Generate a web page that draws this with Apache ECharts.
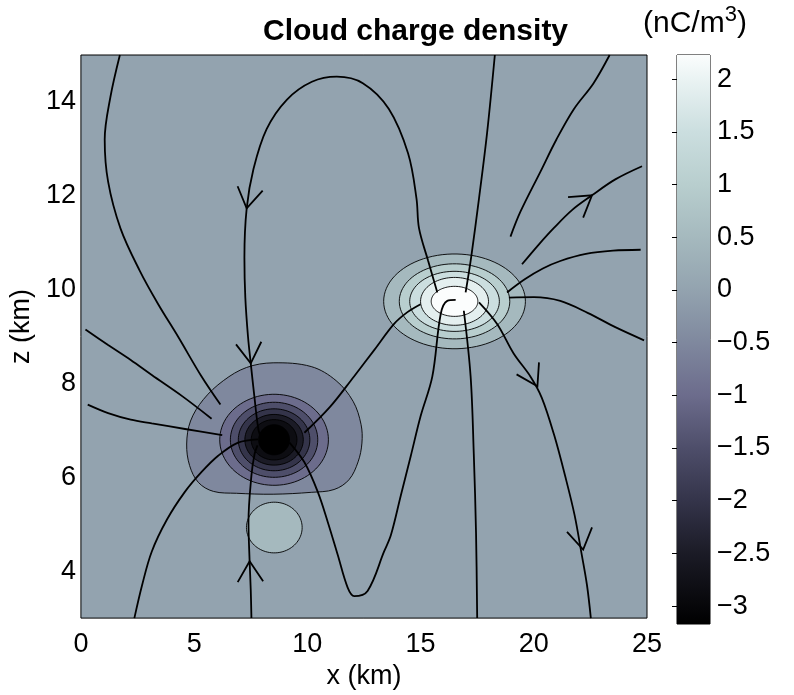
<!DOCTYPE html>
<html>
<head>
<meta charset="utf-8">
<script src="https://cdn.jsdelivr.net/npm/echarts@6/dist/echarts.min.js"></script>
<style>
  html, body { margin: 0; background: #fff; }
  #chart { width: 794px; height: 695px; }
</style>
</head>
<body>
<div id="chart"></div>
<script>
// colour scale of the charge density (nC/m^3)
const cbarMin = -3.17
const cbarMax = 2.23
const cbarTicks = [-3, -2.5, -2, -1.5, -1, -0.5, 0, 0.5, 1, 1.5, 2]
const zTicks = [4, 6, 8, 10, 12, 14]

// upper positive cell: nested contour ellipses (level, half widths in km)
const posCentre = [16.5, 9.75]
const posLevels = [0.5, 1.0, 1.5, 1.9, 2.23]
const posRx = [3.13, 2.44, 1.98, 1.5, 1.03]
const posRz = [1.01, 0.8, 0.64, 0.51, 0.32]

// main negative cell: outer contour traced, inner ones ellipses
const negOuterLevel = -0.5
const negOuter = [
  [8.49, 8.44], [10.17, 8.36], [11.27, 8.06], [12.02, 7.62], [12.37, 7.13],
  [12.41, 6.73], [12.24, 6.33], [11.84, 5.95], [11.18, 5.74], [10.17, 5.68],
  [8.49, 5.64], [6.87, 5.66], [5.85, 5.7], [5.19, 5.89], [4.8, 6.25],
  [4.67, 6.71], [4.84, 7.2], [5.41, 7.66], [6.29, 8.06], [7.31, 8.34]
]
const negCentre = [8.53, 6.8]
const negLevels = [-1, -1.5, -2, -2.5, -2.85, -3.17]
const negRx = [2.4, 1.93, 1.58, 1.29, 1.01, 0.68]
const negRz = [0.97, 0.8, 0.66, 0.54, 0.43, 0.32]

// small positive pocket under the negative cell
const lowCentre = [8.54, 4.93]
const lowLevel = 0.5
const lowRx = 1.23
const lowRz = 0.54

// field lines [x km, z km], in the direction of the field where arrows show
const lineA = [[1.72, 15.0], [1.3, 14.1], [1.05, 13.2], [1.2, 12.3], [1.75, 11.3], [2.6, 10.4], [3.4, 9.7], [4.3, 8.99], [5.3, 8.17], [6.16, 7.55]]
const lineB = [[0.2, 9.15], [1.2, 8.82], [2.2, 8.5], [3.13, 8.18], [4.5, 7.72], [5.77, 7.25]]
const lineC = [[0.3, 7.55], [1.2, 7.37], [2.2, 7.23], [3.13, 7.15], [4.6, 7.03], [6.24, 6.9]]
const arch = [[15.74, 9.94], [15.33, 10.62], [14.93, 11.31], [14.82, 11.94], [14.45, 12.9], [13.6, 13.85], [12.45, 14.4], [11.3, 14.54], [10.2, 14.43], [9.1, 14.05], [8.2, 13.42], [7.62, 12.57], [7.32, 11.73], [7.22, 10.68], [7.26, 9.83], [7.38, 8.99], [7.5, 8.43], [7.66, 7.72], [7.85, 6.99], [8.0, 6.82]]
const lineP = [[18.28, 15.0], [17.94, 13.35], [17.58, 11.94], [17.24, 10.71], [16.99, 9.94]]
const lineO = [[23.35, 15.0], [22.64, 14.4], [21.76, 13.84], [21.0, 13.2], [20.29, 12.51], [19.41, 11.66], [18.97, 11.13]]
const lineL = [[19.48, 10.54], [20.2, 10.95], [20.88, 11.31], [21.7, 11.7], [22.57, 12.01], [23.6, 12.35], [24.78, 12.63]]
const lineM = [[18.82, 9.94], [19.6, 10.22], [20.4, 10.45], [21.17, 10.61], [22.3, 10.76], [23.5, 10.83], [24.72, 10.85]]
const lineN = [[18.9, 9.83], [20.0, 9.84], [21.17, 9.76], [22.4, 9.5], [23.6, 9.2], [24.87, 8.92]]
const lineK = [[17.58, 9.73], [18.38, 9.27], [19.11, 8.64], [19.85, 8.15], [20.35, 7.7], [20.9, 6.9], [21.4, 6.0], [21.8, 5.2], [22.1, 4.4], [22.35, 3.7], [22.52, 3.0]]
const lineJ = [[16.91, 9.55], [17.21, 8.15], [17.35, 6.5], [17.45, 4.8], [17.5, 3.0]]
const lineI = [[15.0, 9.69], [14.42, 9.52], [13.83, 9.27], [12.95, 8.71], [12.06, 8.15], [11.0, 7.5], [9.87, 6.95]]
const lineH = [[9.21, 6.74], [9.87, 6.32], [10.46, 5.69], [10.9, 5.05], [11.34, 4.35], [11.78, 3.65], [12.07, 3.47], [12.66, 3.58], [13.39, 4.42], [13.69, 4.77], [14.13, 5.62], [14.57, 6.46], [15.0, 7.3], [15.52, 8.15], [15.89, 9.48], [16.18, 9.76], [16.55, 9.78]]
const lineF = [[7.53, 3.0], [7.5, 3.6], [7.45, 4.21], [7.4, 5.05], [7.53, 6.04], [7.67, 6.5], [7.8, 6.68]]
const lineG = [[2.36, 3.0], [2.7, 3.7], [3.13, 4.42], [3.8, 5.1], [4.59, 5.69], [5.3, 6.1], [6.06, 6.46], [6.94, 6.74], [7.82, 6.81]]

const fieldLines = { lineA, lineB, lineC, arch, lineP, lineO, lineL, lineM, lineN, lineK, lineJ, lineI, lineH, lineF, lineG }

// arrow heads: [line, x, z]
const arrowMarks = [
  ['arch', 7.32, 11.73], ['arch', 7.5, 8.43], ['lineF', 7.45, 4.21],
  ['lineK', 20.16, 7.94], ['lineK', 22.18, 4.46], ['lineL', 22.57, 12.01]
]

// bone-like colormap
const cmapStops = [
  [-3.17, '#000000'], [-2.5, '#1b1b26'], [-2, '#34344a'], [-1.5, '#4e4e6a'],
  [-1, '#6c6c8c'], [-0.5, '#7f889e'], [0, '#93a3af'], [0.5, '#a5b9be'],
  [1, '#b8cece'], [1.5, '#cbdedf'], [2, '#eaf3f3'], [2.23, '#fbfdfd']
]

const font = 'Liberation Sans, Arial, Helvetica, sans-serif'

function hexToRgb(h) {
  return [1, 3, 5].map((i) => parseInt(h.slice(i, i + 2), 16))
}
function cmap(v) {
  if (v <= cmapStops[0][0]) return cmapStops[0][1]
  for (let i = 1; i < cmapStops.length; i++) {
    const [v1, c1] = cmapStops[i]
    if (v <= v1) {
      const [v0, c0] = cmapStops[i - 1]
      const t = (v - v0) / (v1 - v0)
      const a = hexToRgb(c0)
      const b = hexToRgb(c1)
      return 'rgb(' + a.map((x, k) => Math.round(x + (b[k] - x) * t)).join(',') + ')'
    }
  }
  return cmapStops[cmapStops.length - 1][1]
}

function ellipse(c, rx, rz) {
  const pts = []
  for (let i = 0; i < 90; i++) {
    const a = (i / 90) * Math.PI * 2
    pts.push([c[0] + rx * Math.cos(a), c[1] + rz * Math.sin(a)])
  }
  return pts
}

// filled contours, outermost first
const shapes = []
shapes.push({ level: lowLevel, pts: ellipse(lowCentre, lowRx, lowRz) })
shapes.push({ level: negOuterLevel, pts: negOuter, smooth: 0.35 })
negLevels.forEach((lv, i) => shapes.push({ level: lv, pts: ellipse(negCentre, negRx[i], negRz[i]) }))
posLevels.forEach((lv, i) => shapes.push({ level: lv, pts: ellipse(posCentre, posRx[i], posRz[i]) }))

const chart = echarts.init(document.getElementById('chart'))

const lineSeries = Object.keys(fieldLines).map((name) => ({
  name,
  type: 'line',
  xAxisIndex: 0,
  yAxisIndex: 0,
  data: fieldLines[name],
  showSymbol: false,
  smooth: 0.35,
  z: 3,
  lineStyle: { color: '#000', width: 1.8 },
}))

chart.setOption({
  animation: false,
  title: {
    text: 'Cloud charge density',
    left: 258,
    top: 12,
    textStyle: { fontFamily: font, fontSize: 30, fontWeight: 'bold', color: '#000' },
  },
  graphic: [
    {
      type: 'text',
      left: 643,
      top: 4,
      style: {
        text: '{a|(nC/m}{s|3}{a|)}',
        rich: {
          a: { fontFamily: font, fontSize: 30, color: '#000', lineHeight: 40 },
          s: { fontFamily: font, fontSize: 22, color: '#000', lineHeight: 26, verticalAlign: 'top' },
        },
      },
    },
  ],
  grid: [
    { left: 79, top: 55, width: 568, height: 569, show: true, backgroundColor: cmap(0), borderColor: '#000', borderWidth: 1 },
    { left: 677, top: 55, width: 33, height: 569, show: true, borderColor: '#000', borderWidth: 1 },
  ],
  xAxis: [
    {
      type: 'value', gridIndex: 0, min: 0, max: 25, interval: 5,
      name: 'x (km)', nameLocation: 'middle', nameGap: 40,
      nameTextStyle: { fontFamily: font, fontSize: 27, color: '#000' },
      axisLine: { show: false }, axisTick: { show: false }, splitLine: { show: false },
      axisLabel: { fontFamily: font, fontSize: 27, color: '#000', margin: 13 },
    },
    { type: 'value', gridIndex: 1, min: 0, max: 1, show: false },
  ],
  yAxis: [
    {
      type: 'value', gridIndex: 0, min: 3, max: 15,
      name: 'z (km)', nameLocation: 'middle', nameGap: 36, nameRotate: 90,
      nameTextStyle: { fontFamily: font, fontSize: 27, color: '#000', padding: [0, 0, 0, 20] },
      axisLine: { show: false }, axisTick: { show: false }, splitLine: { show: false },
      axisLabel: { fontFamily: font, fontSize: 27, color: '#000', margin: 5, customValues: zTicks },
    },
    {
      type: 'value', gridIndex: 1, position: 'right', min: cbarMin, max: cbarMax,
      axisLine: { show: false }, splitLine: { show: false },
      axisTick: { show: true, inside: true, length: 5, customValues: cbarTicks, lineStyle: { color: '#000' } },
      axisLabel: {
        fontFamily: font, fontSize: 27, color: '#000', margin: 7, customValues: cbarTicks,
        formatter: (v) => String(v).replace('-', '\u2212'),
      },
    },
    {
      type: 'value', gridIndex: 1, position: 'left', min: cbarMin, max: cbarMax,
      axisLine: { show: false }, splitLine: { show: false },
      axisTick: { show: true, inside: true, length: 5, customValues: cbarTicks, lineStyle: { color: '#000' } },
      axisLabel: { show: false, customValues: cbarTicks },
    },
  ],
  series: [
    {
      type: 'custom',
      name: 'contours',
      xAxisIndex: 0,
      yAxisIndex: 0,
      z: 1,
      data: shapes.map((s, i) => [i]),
      renderItem(params, api) {
        const s = shapes[api.value(0)]
        return {
          type: 'polygon',
          shape: { points: s.pts.map((p) => api.coord(p)), smooth: s.smooth || 0 },
          style: { fill: cmap(s.level), stroke: '#000', lineWidth: 0.9 },
        }
      },
    },
    ...lineSeries,
    {
      type: 'custom',
      name: 'arrows',
      xAxisIndex: 0,
      yAxisIndex: 0,
      z: 4,
      data: arrowMarks.map((a, i) => [i]),
      renderItem(params, api) {
        const [name, x, z] = arrowMarks[api.value(0)]
        const pts = fieldLines[name].map((p) => api.coord(p))
        const tip = api.coord([x, z])
        // direction of the nearest segment
        let best = 0
        let bestD = Infinity
        for (let i = 0; i < pts.length - 1; i++) {
          const mx = (pts[i][0] + pts[i + 1][0]) / 2
          const my = (pts[i][1] + pts[i + 1][1]) / 2
          const d = (mx - tip[0]) ** 2 + (my - tip[1]) ** 2
          if (d < bestD) { bestD = d; best = i }
        }
        let dx = pts[best + 1][0] - pts[best][0]
        let dy = pts[best + 1][1] - pts[best][1]
        const len = Math.hypot(dx, dy)
        dx /= len
        dy /= len
        const arm = 24
        const ang = (32 * Math.PI) / 180
        const rot = (a) => [
          tip[0] + arm * (-dx * Math.cos(a) + dy * Math.sin(a)),
          tip[1] + arm * (-dy * Math.cos(a) - dx * Math.sin(a)),
        ]
        return {
          type: 'polyline',
          shape: { points: [rot(ang), tip, rot(-ang)] },
          style: { stroke: '#000', lineWidth: 1.8, fill: null },
        }
      },
    },
    {
      type: 'custom',
      name: 'colorbar',
      xAxisIndex: 1,
      yAxisIndex: 1,
      z: 1,
      data: [[0]],
      renderItem(params, api) {
        const p0 = api.coord([0, cbarMax])
        const p1 = api.coord([1, cbarMin])
        const stops = cmapStops
          .map(([v, c]) => ({ offset: (cbarMax - v) / (cbarMax - cbarMin), color: c }))
          .reverse()
        return {
          type: 'rect',
          shape: { x: p0[0], y: p0[1], width: p1[0] - p0[0], height: p1[1] - p0[1] },
          style: { fill: new echarts.graphic.LinearGradient(0, 0, 0, 1, stops) },
        }
      },
    },
  ],
})
</script>
</body>
</html>
